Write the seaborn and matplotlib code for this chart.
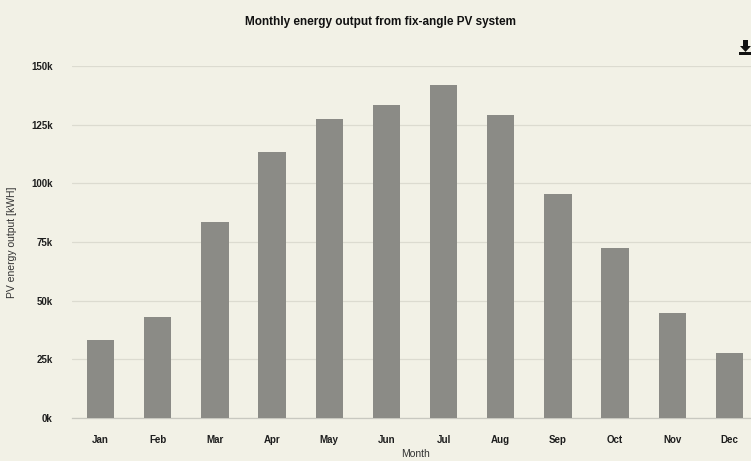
import numpy as np
import pandas as pd
import seaborn as sns
import matplotlib.pyplot as plt
from matplotlib.patches import Polygon, Rectangle
from matplotlib.ticker import FuncFormatter

# monthly PV output (kWh)
months = ['Jan', 'Feb', 'Mar', 'Apr', 'May', 'Jun', 'Jul', 'Aug', 'Sep', 'Oct', 'Nov', 'Dec']
output_kwh = [33200, 43200, 83700, 113200, 127400, 133500, 142000, 129200, 95500, 72600, 44600, 27500]
y_ticks = [0, 25000, 50000, 75000, 100000, 125000, 150000]

bg = '#f2f1e6'
bar_col = '#8b8b86'
txt = '#1e1e1e'

sns.set_theme(style='white')
plt.rcParams['font.family'] = ['Liberation Sans', 'DejaVu Sans']

df = pd.DataFrame({'month': months, 'output': output_kwh})

fig = plt.figure(figsize=(7.51, 4.61), dpi=100, facecolor=bg)
ax = fig.add_axes([72/751, 43/461, 686/751, 352/461])
ax.set_facecolor(bg)

sns.barplot(data=df, x='month', y='output', color=bar_col, width=0.48,
            saturation=1, linewidth=0, ax=ax, zorder=3)

ax.set_ylim(0, 150000)
ax.set_xlim(-0.5, 11.5)
ax.set_yticks(y_ticks)
ax.yaxis.set_major_formatter(FuncFormatter(lambda v, p: f'{int(v/1000)}k'))
ax.yaxis.grid(True, color='#dcdbd0', linewidth=0.9, zorder=0)
ax.set_axisbelow(True)

# category boundary ticks like the original
ax.set_xticks(np.arange(-0.5, 12, 1), minor=True)
ax.tick_params(axis='x', which='minor', length=5, color='#c8c8c0', width=0.8, direction='out')
ax.tick_params(axis='x', which='major', length=0, pad=12, labelsize=7, labelcolor=txt)
ax.tick_params(axis='y', length=0, pad=14, labelsize=7, labelcolor=txt)
for lab in ax.get_xticklabels() + ax.get_yticklabels():
    lab.set_fontweight('bold')

for s in ['top', 'right', 'left']:
    ax.spines[s].set_visible(False)
ax.spines['bottom'].set_color('#c8c8c0')
ax.spines['bottom'].set_linewidth(0.9)

ax.set_xlabel('Month', fontsize=7.5, color='#333333', labelpad=3)
ax.set_ylabel('PV energy output [kWH]', fontsize=7.5, color='#333333', labelpad=10)

fig.text(0.506, 1 - 22/461, 'Monthly energy output from fix-angle PV system',
         ha='center', va='center', fontsize=8.5, fontweight='bold', color='#111111')

# export (download) icon in the top-right corner, drawn in pixel coords
W, H = 751, 461
def fp(x, y):
    return (x / W, 1 - y / H)
arrow = [fp(743, 40), fp(748, 40), fp(748, 46), fp(751, 46), fp(745.5, 52),
         fp(740, 46), fp(743, 46)]
fig.add_artist(Polygon(arrow, closed=True, transform=fig.transFigure,
                       facecolor='#111111', edgecolor='none'))
fig.add_artist(Rectangle(fp(739, 55), 12 / W, 2.5 / H, transform=fig.transFigure,
                         facecolor='#111111', edgecolor='none'))

fig.savefig('out.png', dpi=100, facecolor=bg)
